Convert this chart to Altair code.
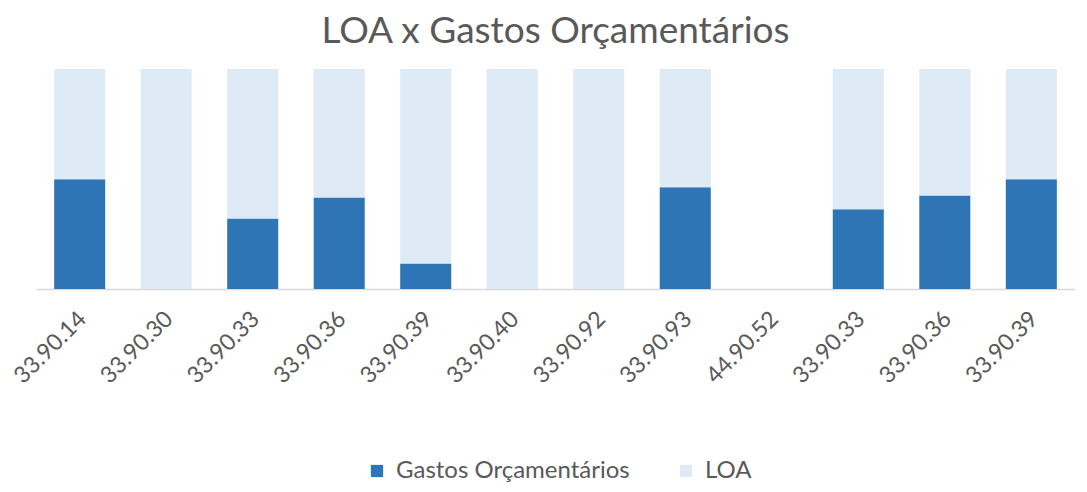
import altair as alt
import pandas as pd

categories = ["33.90.14", "33.90.30", "33.90.33", "33.90.36", "33.90.39", "33.90.40",
              "33.90.92", "33.90.93", "44.90.52", "33.90.33", "33.90.36", "33.90.39"]
gastos = [49.9, 0, 32.0, 41.6, 11.6, 0, 0, 46.3, 0, 36.3, 42.5, 49.9]
loa = [50.1, 100, 68.0, 58.4, 88.4, 100, 100, 53.7, 0, 63.7, 57.5, 50.1]
series = ["Gastos Orçamentários", "LOA"]
colors = ["#2E75B6", "#DEEAF6"]

rows = []
for i, c in enumerate(categories):
    rows.append({"idx": i, "cat": c, "serie": series[0], "ordem": 0, "valor": gastos[i]})
    rows.append({"idx": i, "cat": c, "serie": series[1], "ordem": 1, "valor": loa[i]})
df = pd.DataFrame(rows)

label_array = "[" + ",".join("'" + c + "'" for c in categories) + "]"
FONT = "Lato"
GRAY = "#595959"

chart = alt.Chart(df).mark_bar().encode(
    x=alt.X("idx:O", sort=list(range(len(categories))),
            scale=alt.Scale(paddingInner=0.41, paddingOuter=0.21),
            axis=alt.Axis(title=None, labelExpr=label_array + "[datum.value]",
                          labelAngle=-45, labelAlign="right", labelBaseline="middle",
                          labelFontSize=23, labelColor=GRAY, labelFont=FONT,
                          labelPadding=26, labelOffset=3, ticks=False,
                          domainColor="#D9D9D9", domainWidth=1.5)),
    y=alt.Y("valor:Q", stack="zero", scale=alt.Scale(domain=[0, 100], nice=False),
            axis=None),
    color=alt.Color("serie:N", scale=alt.Scale(domain=series, range=colors),
                    legend=alt.Legend(title=None, orient="none", direction="horizontal",
                                      legendX=329, legendY=390, symbolType="square",
                                      symbolSize=150, symbolStrokeWidth=0,
                                      labelFontSize=24, labelFont=FONT, labelColor=GRAY,
                                      labelLimit=0, columnPadding=44, labelOffset=7)),
    order=alt.Order("ordem:Q", sort="ascending"),
).properties(
    width=1039, height=220,
    autosize=alt.AutoSizeParams(type="none"),
    padding={"left": 28, "top": 61, "right": 0, "bottom": 195},
    title=alt.Title("LOA x Gastos Orçamentários", fontSize=37, font=FONT,
                    color=GRAY, fontWeight="normal", anchor="middle", offset=18),
).configure_view(stroke=None)

chart.save("out.html", embed_options={"renderer": "svg", "actions": False})
